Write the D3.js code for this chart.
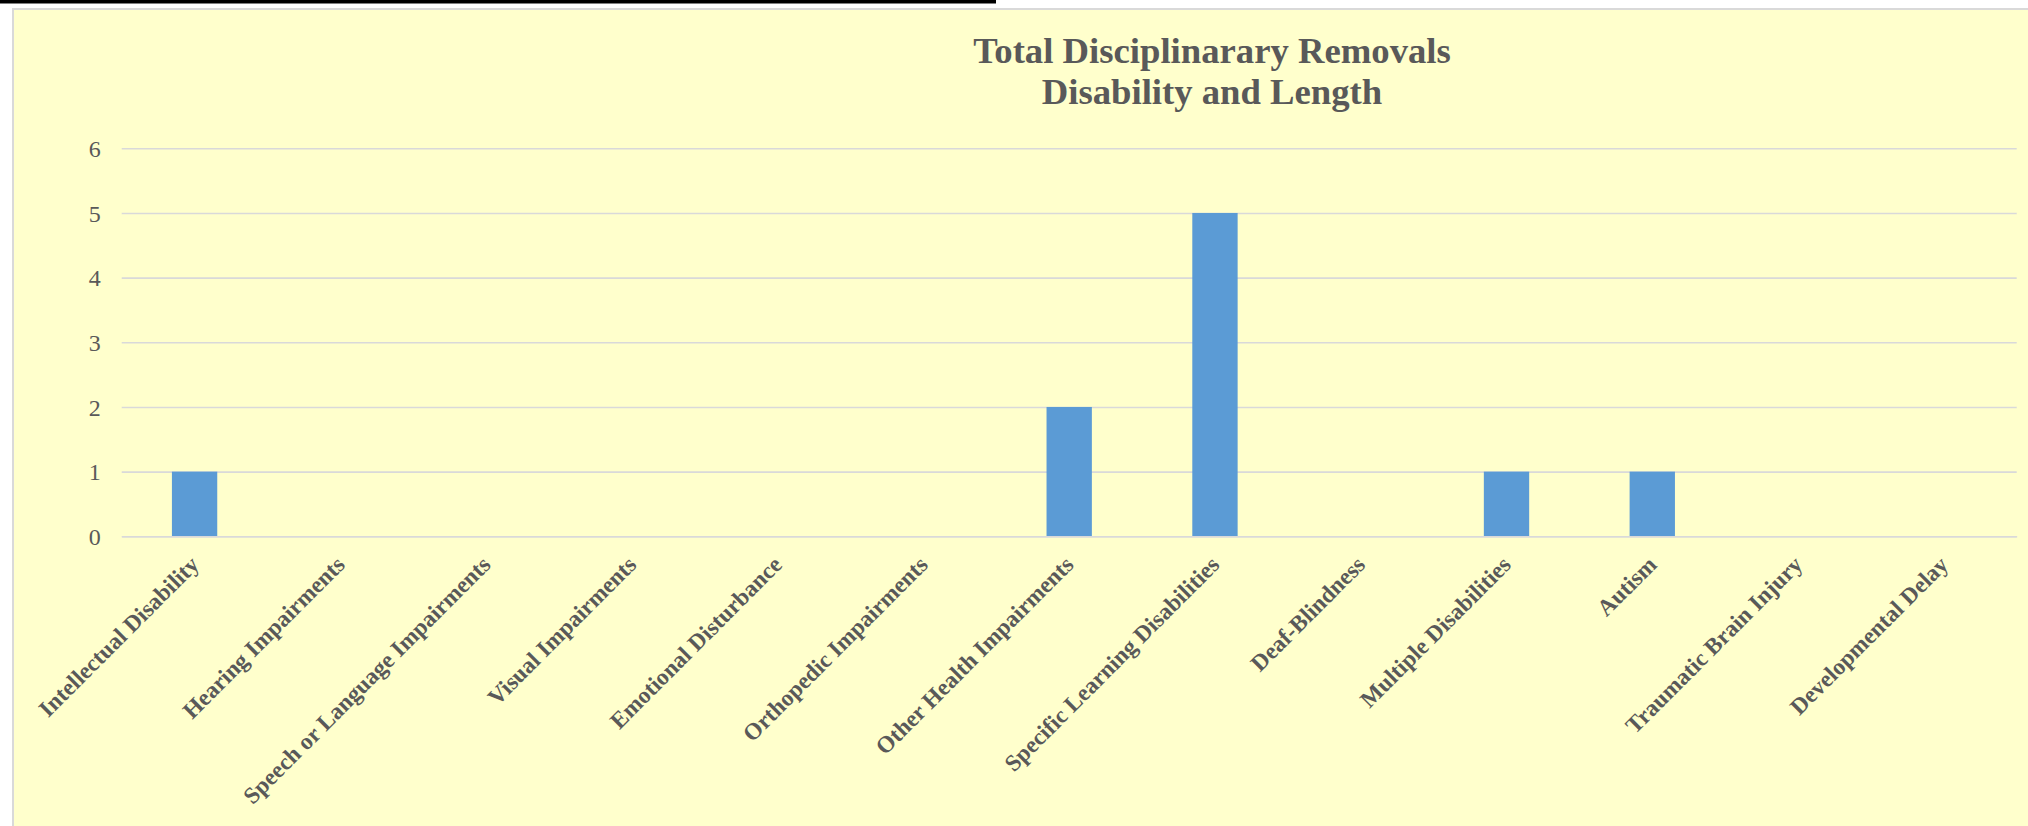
<!DOCTYPE html>
<html>
<head>
<meta charset="utf-8">
<script src="https://cdn.jsdelivr.net/npm/d3@7"></script>
<style>
  html, body { margin: 0; padding: 0; background: #ffffff; }
  svg { display: block; }
</style>
</head>
<body>
<svg id="chart" width="2028" height="826"></svg>
<script>
const categories = [
  "Intellectual Disability", "Hearing Impairments", "Speech or Language Impairments",
  "Visual Impairments", "Emotional Disturbance", "Orthopedic Impairments",
  "Other Health Impairments", "Specific Learning Disabilities", "Deaf-Blindness",
  "Multiple Disabilities", "Autism", "Traumatic Brain Injury", "Developmental Delay"
];
const values = [1, 0, 0, 0, 0, 0, 2, 5, 0, 1, 1, 0, 0];
const yTicks = [0, 1, 2, 3, 4, 5, 6];
const titleLines = ["Total Disciplinarary Removals", "Disability and Length"];

const W = 2028, H = 826;
const svg = d3.select("#chart");
const textColor = "#595959";
const gridColor = "#d9d9d9";
const serif = "'Liberation Serif', 'Times New Roman', serif";

// top black strip
svg.append("rect").attr("x", 0).attr("y", 0).attr("width", 996).attr("height", 3.5).attr("fill", "#000");

// chart area box
svg.append("rect")
  .attr("x", 13).attr("y", 9)
  .attr("width", W + 20).attr("height", H + 20)
  .attr("fill", "#ffffcc")
  .attr("stroke", gridColor).attr("stroke-width", 2);

const plot = { left: 121.7, right: 2016.7, top: 148.3, bottom: 536.3 };

const x = d3.scaleBand()
  .domain(categories)
  .range([plot.left, plot.right])
  .paddingInner(0.689)
  .paddingOuter(0.3445);

const y = d3.scaleLinear().domain([0, 6]).range([plot.bottom, plot.top]);

// y axis with gridlines
const yAxis = svg.append("g")
  .attr("transform", `translate(${plot.left},0)`)
  .call(d3.axisLeft(y).tickValues(yTicks).tickSize(-(plot.right - plot.left)).tickPadding(21).tickFormat(d3.format("d")));
yAxis.select(".domain").remove();
yAxis.selectAll(".tick line").attr("stroke", gridColor).attr("stroke-width", 1.6);
yAxis.selectAll(".tick text")
  .attr("fill", textColor)
  .attr("font-family", serif)
  .attr("font-size", 24)
  .attr("dy", "0.34em");

// bars
svg.append("g").selectAll("rect")
  .data(categories.map((c, i) => ({ c, v: values[i] })))
  .join("rect")
  .attr("x", d => x(d.c))
  .attr("width", x.bandwidth())
  .attr("y", d => y(d.v))
  .attr("height", d => y(0) - y(d.v))
  .attr("fill", "#5b9bd5");

// x axis
const xAxis = svg.append("g")
  .attr("transform", `translate(0,${plot.bottom})`)
  .call(d3.axisBottom(x).tickSize(0).tickSizeOuter(0));
xAxis.select(".domain").attr("stroke", gridColor).attr("stroke-width", 1.6);
xAxis.selectAll(".tick text")
  .attr("fill", textColor)
  .attr("font-family", serif)
  .attr("font-size", 23.4)
  .attr("font-weight", "bold")
  .attr("text-anchor", "end")
  .attr("x", 0).attr("y", 0)
  .attr("dy", "0.35em")
  .attr("transform", "translate(0,24) rotate(-45)");

// title
const title = svg.append("text")
  .attr("text-anchor", "middle")
  .attr("fill", textColor)
  .attr("font-family", serif)
  .attr("font-weight", "bold")
  .attr("font-size", 36.7);
titleLines.forEach((t, i) => {
  title.append("tspan").attr("x", 1212).attr("y", 63.3 + i * 41).text(t);
});
</script>
</body>
</html>
